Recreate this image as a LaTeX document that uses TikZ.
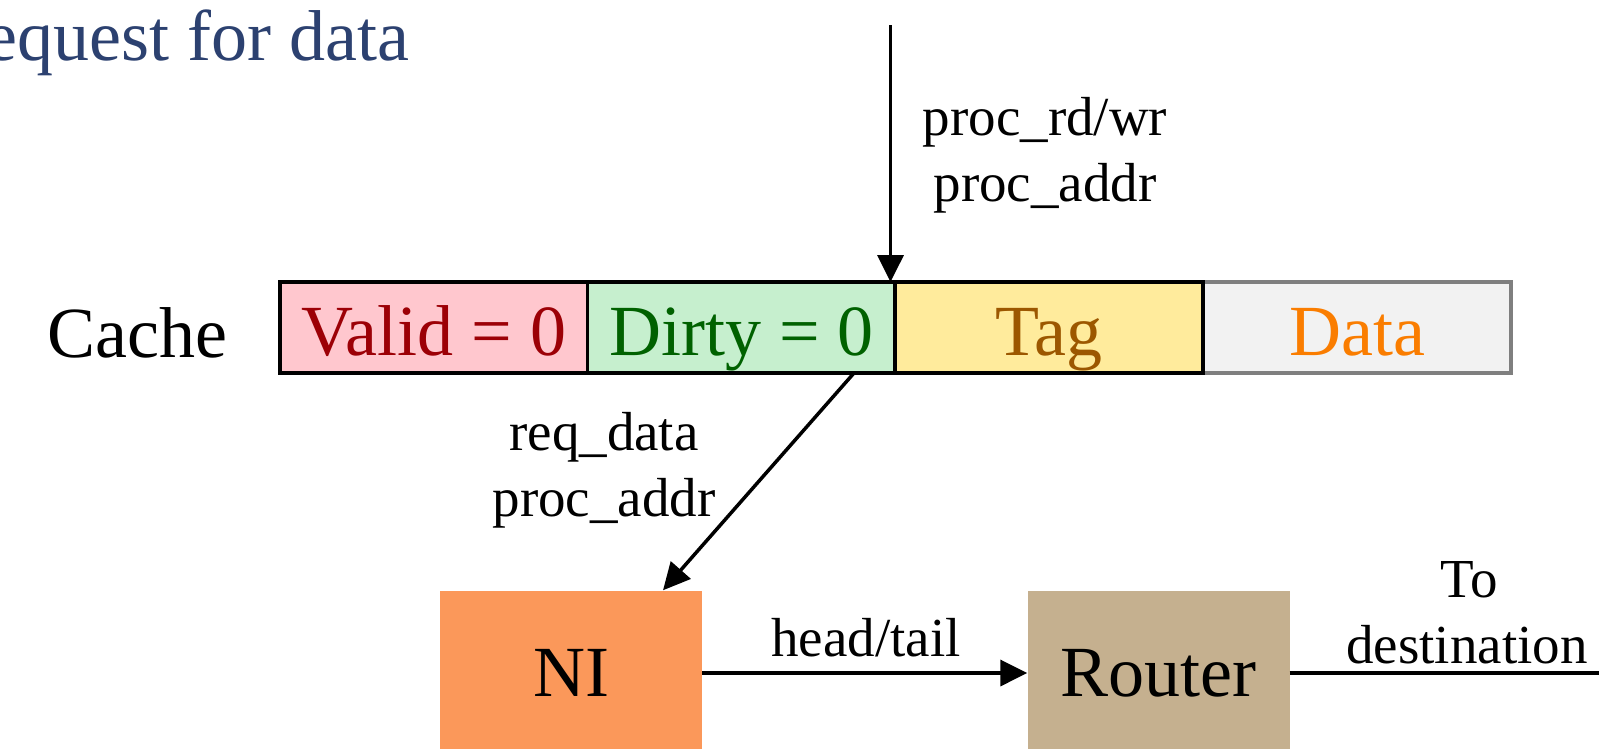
\documentclass[tikz,border=0pt]{standalone}
\usepackage{fontspec}
\setmainfont{Liberation Serif}
\usetikzlibrary{arrows.meta,calc}
\definecolor{titlecol}{RGB}{44,65,112}
\definecolor{validfill}{HTML}{FFC7CE}
\definecolor{validtext}{HTML}{9C0006}
\definecolor{dirtyfill}{HTML}{C6EFCE}
\definecolor{dirtytext}{HTML}{006100}
\definecolor{tagfill}{HTML}{FFEB9C}
\definecolor{tagtext}{HTML}{9C5700}
\definecolor{datafill}{HTML}{F2F2F2}
\definecolor{datatext}{HTML}{FA7D00}
\definecolor{databorder}{HTML}{7F7F7F}
\definecolor{nifill}{RGB}{251,152,90}
\definecolor{routerfill}{RGB}{197,176,143}
\tikzset{
  bigfont/.style={font=\fontsize{72}{80}\selectfont},
  smallfont/.style={font=\fontsize{55}{62}\selectfont},
  cell/.style={draw=black, line width=3.7pt, minimum width=307.6pt, minimum height=91pt,
    inner sep=0pt, text height=55pt, text depth=0pt, bigfont},
  blockbox/.style={minimum width=262pt, minimum height=165pt, inner sep=0pt,
    text height=47.5pt, text depth=0pt, bigfont},
  lbl/.style={smallfont, anchor=base, inner sep=0pt},
  sig/.style={line width=3.5pt, -{Triangle[length=27pt,width=26pt]}},
  plainline/.style={line width=3.5pt}
}
\begin{document}
\begin{tikzpicture}[x=1pt,y=-1pt]
\useasboundingbox (0,0) rectangle (1599,749);
% title
\node[bigfont, text=titlecol, anchor=base west, inner sep=0pt] (title) at (-39,61) {request for data};
% cache row
\node[bigfont, anchor=base, inner sep=0pt] (cachelbl) at (137.5,357) {Cache};
\node[cell, draw=databorder, fill=datafill, text=datatext] (data) at (1357.0,327.5) {Data};
\node[cell, fill=validfill, text=validtext] (valid) at (433.8,327.5) {Valid = 0};
\node[cell, fill=dirtyfill, text=dirtytext] (dirty) at (741.4,327.5) {Dirty = 0};
\node[cell, fill=tagfill, text=tagtext] (tag) at (1049.2,327.5) {Tag};
% NI and router
\node[blockbox, fill=nifill] (ni) at (571,673) {NI};
\node[blockbox, fill=routerfill] (router) at (1158.5,673) {Router};
% free ends
\coordinate (intop) at (890.5,25.5);
\coordinate (outend) at (1599,673);
% arrows
\draw[sig] (intop) -- ([yshift=-1.9pt]intop |- dirty.north);
\draw[sig] ([xshift=-43pt,yshift=1.9pt]dirty.south east) -- ([xshift=92pt]ni.north);
\draw[sig] (ni.east) -- (router.west);
\draw[plainline] (router.east) -- (outend);
% labels
\node[lbl] (l1) at (1045,136) {proc\_rd/wr};
\node[lbl] (l2) at (1045,201) {proc\_addr};
\node[lbl] (l3) at (604,450) {req\_data};
\node[lbl] (l4) at (604,516) {proc\_addr};
\node[lbl] (l5) at (866,656) {head/tail};
\node[lbl] (l6) at (1469,597) {To};
\node[lbl] (l7) at (1467,663) {destination};
\end{tikzpicture}
\end{document}
